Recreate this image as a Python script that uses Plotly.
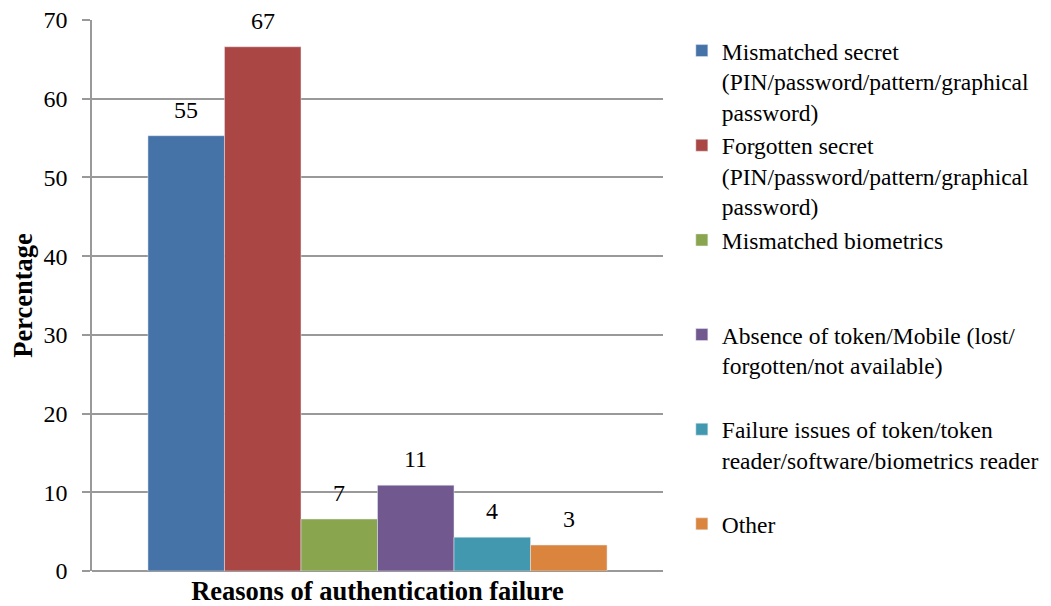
import plotly.graph_objects as go

category = ["Reasons of authentication failure"]
series_names = [
    "Mismatched secret<br>(PIN/password/pattern/graphical<br>password)",
    "Forgotten secret<br>(PIN/password/pattern/graphical<br>password)",
    "Mismatched biometrics<br> <br> ",
    "Absence of token/Mobile (lost/<br>forgotten/not available)<br> ",
    "Failure issues of token/token<br>reader/software/biometrics reader<br> ",
    "Other<br> <br> ",
]
values = [55.3, 66.6, 6.6, 10.9, 4.3, 3.3]
labels = ["55", "67", "7", "11", "4", "3"]
colors = ["#4572A7", "#AA4643", "#89A54E", "#71588F", "#4198AF", "#DB843D"]

FONT = "Liberation Serif"
BARGAP = 0.196

fig = go.Figure()
n = len(values)
for i, (name, v, lab, c) in enumerate(zip(series_names, values, labels, colors)):
    fig.add_trace(go.Bar(
        x=category, y=[v], name=name, marker_color=c,
    ))
    # value label above each bar (position derived from bar layout)
    fig.add_annotation(
        x=(i - (n - 1) / 2) * (1 - BARGAP) / n, y=v,
        xref="x", yref="y", text=lab, showarrow=False,
        yanchor="bottom", yshift=11,
        font=dict(family=FONT, size=24, color="black"),
    )

# page body has an 8px margin; size and margins compensate so the plot area
# lands at x 92..663, y 20..571 of the window
fig.update_layout(
    width=1043, height=598,
    barmode="group", bargap=BARGAP, bargroupgap=0,
    paper_bgcolor="white", plot_bgcolor="white",
    margin=dict(l=84, r=388, t=12, b=35, autoexpand=False),
    font=dict(family=FONT, size=24, color="black"),
    showlegend=True,
    legend=dict(
        x=1.033, xanchor="left", y=0.984, yanchor="top",
        font=dict(family=FONT, size=23.5, color="black"),
        valign="top", traceorder="normal", maxheight=600,
        bgcolor="rgba(0,0,0,0)",
    ),
)
fig.update_xaxes(
    showticklabels=False, showgrid=False, showline=False, automargin=False,
    range=[-0.5, 0.5],
    title=dict(text="<b>Reasons of authentication failure</b>", standoff=11,
               font=dict(family=FONT, size=26.5, color="black")),
)
fig.update_yaxes(
    range=[0, 70], dtick=10, showgrid=True, gridcolor="#999999", gridwidth=1.5,
    showline=True, linecolor="#999999", linewidth=1.5, automargin=False,
    ticks="outside", ticklen=8, tickcolor="#999999", tickwidth=1.5,
    ticklabeloverflow="allow", ticklabelstandoff=10,
    zeroline=True, zerolinecolor="#999999", zerolinewidth=1.5,
    tickfont=dict(family=FONT, size=24, color="black"),
    title=dict(text="<b>Percentage</b>", standoff=10,
               font=dict(family=FONT, size=26.5, color="black")),
)

fig.write_html("out.html")
